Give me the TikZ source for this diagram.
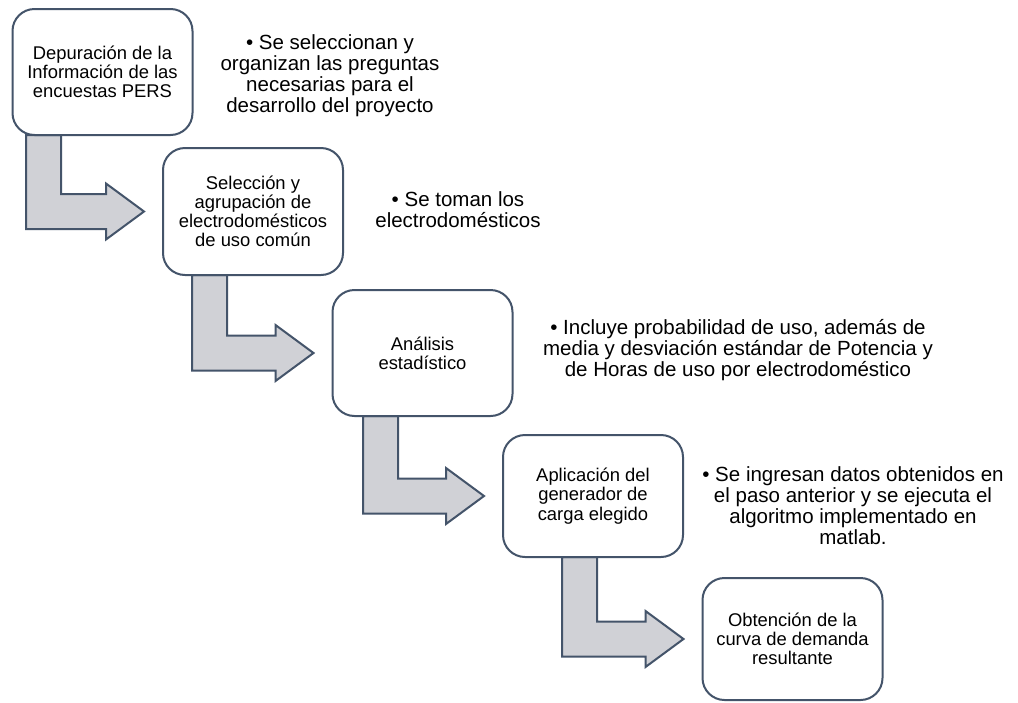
\documentclass[tikz,border=0pt]{standalone}
\usepackage{fontspec}
\setmainfont{Liberation Sans}
\usetikzlibrary{calc}
\pgfdeclarelayer{background}
\pgfsetlayers{background,main}
\definecolor{edge}{RGB}{68,84,106}
\definecolor{arrfill}{RGB}{208,209,214}
\newcommand\bentarrow[3]{%
  \draw[arr] let \p1=(#1.south), \p2=(#3.west) in
    (#2pt,\y1+1pt) -- (#2pt+35pt,\y1+1pt) -- (#2pt+35pt,\y2+17.5pt)
    -- (\x2-56pt,\y2+17.5pt) -- (\x2-56pt,\y2+28pt) -- (\x2-18pt,\y2)
    -- (\x2-56pt,\y2-28pt) -- (\x2-56pt,\y2-17.5pt) -- (#2pt,\y2-17.5pt) -- cycle;}
\begin{document}
\begin{tikzpicture}[x=1pt,y=-1pt,
  stepbox/.style={draw=edge, line width=2pt, fill=white, rounded corners=22pt,
    minimum width=180pt, minimum height=125pt, align=center, inner sep=0pt,
    font=\fontsize{18.4}{19.2}\selectfont, text=black},
  side/.style={align=center, inner sep=0pt, font=\fontsize{20.5}{21}\selectfont, text=black},
  arr/.style={draw=edge, line width=2pt, fill=arrfill, line join=miter}]
\useasboundingbox (0,0) rectangle (1018,702);
% boxes
\node[stepbox, minimum height=126pt] (b1) at (102.5,72) {Depuración de la\\Información de las\\encuestas PERS};
\node[stepbox, minimum height=127pt] (b2) at (253,211.5) {Selección y\\agrupación de\\electrodomésticos\\de uso común};
\node[stepbox, minimum height=126pt] (b3) at (422.5,353) {Análisis\\estadístico};
\node[stepbox, minimum height=122pt] (b4) at (593,496) {Aplicación del\\generador de\\carga elegido};
\node[stepbox, minimum height=122pt] (b5) at (792.5,639) {Obtención de la\\curva de demanda\\resultante};
% arrows, behind the boxes
\begin{pgfonlayer}{background}
\fill[white] (0,0) rectangle (1018,702);
\bentarrow{b1}{26}{b2}
\bentarrow{b2}{192}{b3}
\bentarrow{b3}{363}{b4}
\bentarrow{b4}{562}{b5}
\end{pgfonlayer}
% side texts
\node[side] (t1) at (330,76) {• Se seleccionan y\\organizan las preguntas\\necesarias para el\\desarrollo del proyecto};
\node[side] (t2) at (458,210) {• Se toman los\\electrodomésticos};
\node[side] (t3) at (738,350) {• Incluye probabilidad de uso, además de\\media y desviación estándar de Potencia y\\de Horas de uso por electrodoméstico};
\node[side] (t4) at (853,506) {• Se ingresan datos obtenidos en\\el paso anterior y se ejecuta el\\algoritmo implementado en\\matlab.};
\end{tikzpicture}
\end{document}
